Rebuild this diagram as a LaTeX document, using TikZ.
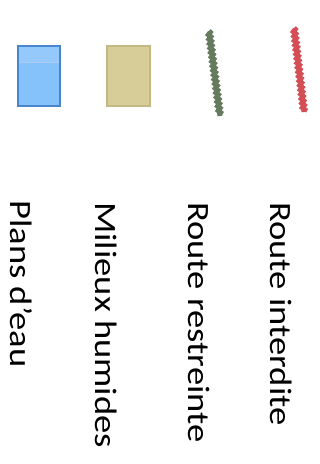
\documentclass[tikz,border=0pt]{standalone}
\usepackage{fontspec}
\setmainfont{Carlito}
\usetikzlibrary{decorations.pathmorphing}
\definecolor{wblue}{HTML}{85C1FA}
\definecolor{wbluetop}{HTML}{96C9FB}
\definecolor{wbluedark}{HTML}{4A86D0}
\definecolor{wbeige}{HTML}{D6CD99}
\definecolor{wbeigedark}{HTML}{C2B884}
\definecolor{rgreen}{HTML}{667A5E}
\definecolor{rred}{HTML}{D44E55}
\tikzset{
  lab/.style={inner sep=0pt, anchor=base west, rotate=-90, xscale=1.18, font=\fontsize{31}{31}\selectfont},
  swatch/.style={line width=2pt},
  road/.style={line width=5pt, decorate, decoration={snake, amplitude=1.1pt, segment length=4.5pt}}
}
\begin{document}
\begin{tikzpicture}[x=1pt,y=-1pt]
\useasboundingbox (0,0) rectangle (320,464);
% swatches
\filldraw[swatch, fill=wblue, draw=wbluedark] (18,46) rectangle (60,106);
\fill[wbluetop] (19,47) rectangle (59,62);
\draw[line width=1pt, draw=wbluedark!45] (19,62) -- (59,62);
\filldraw[swatch, fill=wbeige, draw=wbeigedark] (107,46) rectangle (150,106);
% roads
\coordinate (g1) at (209,31);
\coordinate (g2) at (220,116);
\coordinate (r1) at (294,28);
\coordinate (r2) at (304,112);
\draw[road, draw=rgreen] (g1) -- (g2);
\draw[road, draw=rred] (r1) -- (r2);
% labels
\node[lab] (ri) at (270,202) {Route interdite};
\node[lab] (rr) at (188,202) {Route restreinte};
\node[lab] (mh) at (95,202) {Milieux humides};
\node[lab] (pe) at (10,200) {Plans d’eau};
\end{tikzpicture}
\end{document}
